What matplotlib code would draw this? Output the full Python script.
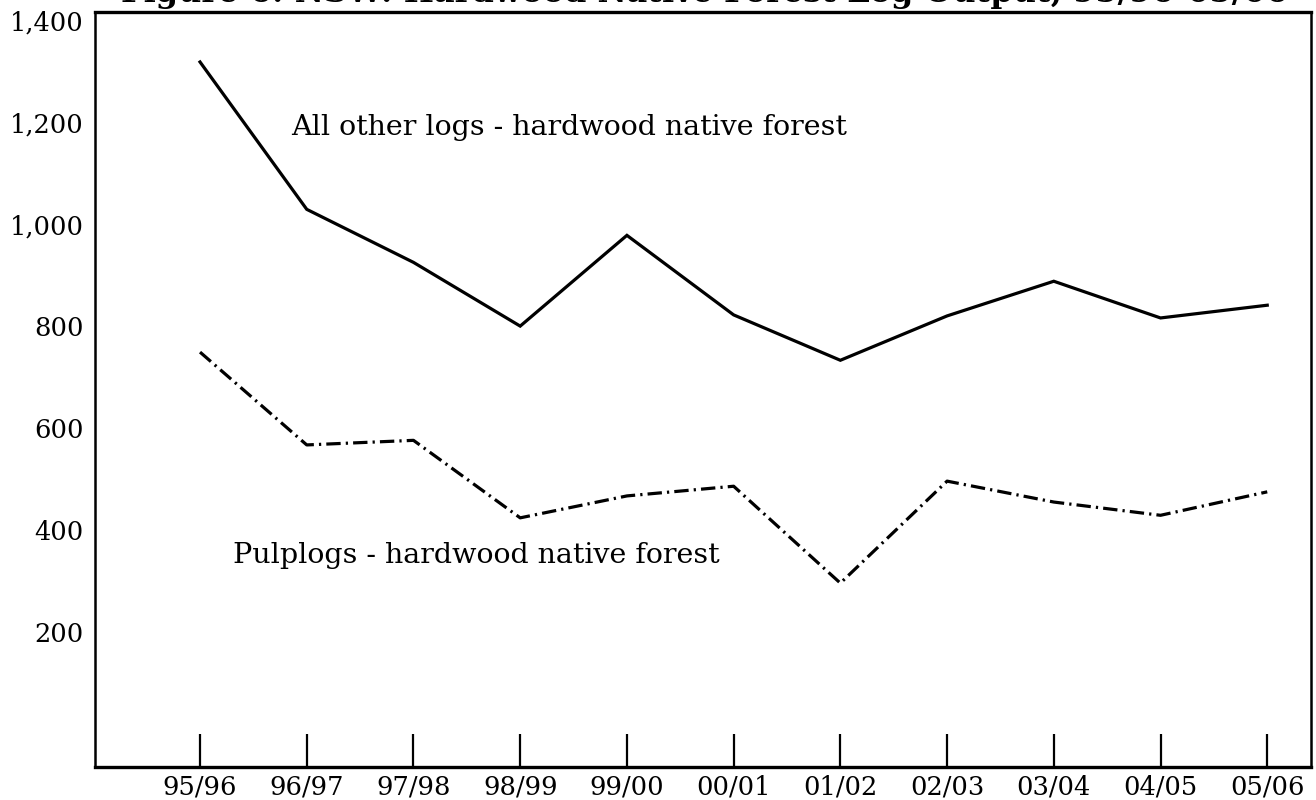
import matplotlib
matplotlib.use("Agg")
import matplotlib.pyplot as plt

# Data (thousand cubic metres)
years = ["95/96", "96/97", "97/98", "98/99", "99/00", "00/01",
         "01/02", "02/03", "03/04", "04/05", "05/06"]
other_logs = [1318, 1029, 925, 800, 978, 822, 733, 820, 888, 816, 841]
pulplogs = [749, 567, 576, 424, 467, 486, 296, 496, 455, 429, 475]
y_ticks = [200, 400, 600, 800, 1000, 1200, 1400]

plt.rcParams["font.family"] = ["DejaVu Serif"]

fig = plt.figure(figsize=(13.16, 8), dpi=100)
ax = fig.add_axes([0.0722, 0.041, 0.9240, 0.944])

x = list(range(len(years)))
ax.plot(x, other_logs, color="black", lw=2.3, solid_joinstyle="miter")
ax.plot(x, pulplogs, color="black", lw=2.3, linestyle=(0, (4.5, 1.6, 0.7, 1.6)))

ax.text(0.85, 1190, "All other logs - hardwood native forest",
        fontsize=20.5, va="center", ha="left")
ax.text(0.31, 350, "Pulplogs - hardwood native forest",
        fontsize=20.5, va="center", ha="left")

ax.set_xlim(-0.984, 10.41)
ax.set_ylim(-65, 1416)

ax.set_xticks(x)
ax.set_xticklabels(years, fontsize=18.5)
ax.tick_params(axis="x", direction="in", length=24, width=1.6, pad=5)

ax.set_yticks(y_ticks)
ax.set_yticklabels([f"{v:,}" for v in y_ticks], fontsize=18.5)
ax.tick_params(axis="y", length=0, pad=8)

for side in ["left", "right", "top", "bottom"]:
    ax.spines[side].set_linewidth(1.8)
ax.spines["top"].set_linewidth(2.4)
ax.spines["bottom"].set_linewidth(2.4)

# title is cut off at the top edge in the original
fig.text(0.535, 1.008, "Figure 6: NSW: Hardwood Native Forest Log Output, 95/96-05/06",
         fontsize=23, fontweight="bold", ha="center", va="center")

fig.savefig("out.png", dpi=100)
